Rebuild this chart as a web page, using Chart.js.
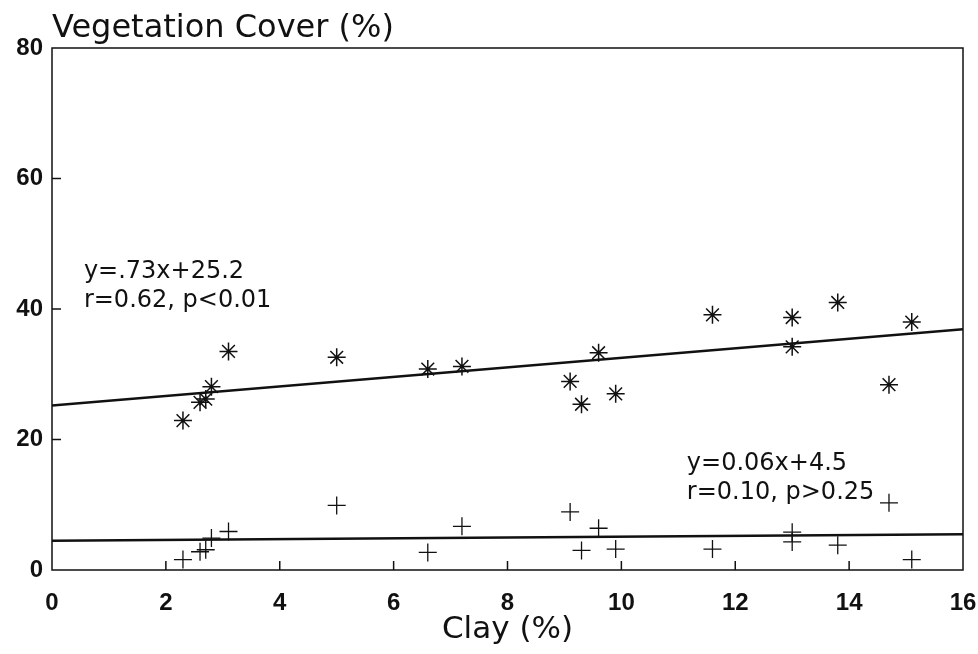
<!DOCTYPE html>
<html>
<head>
<meta charset="utf-8">
<script src="https://cdn.jsdelivr.net/npm/chart.js@4.4.0/dist/chart.umd.min.js"></script>
<style>
  html, body { margin: 0; padding: 0; background: #fff; }
  #wrap { width: 978px; height: 654px; position: relative; }
</style>
</head>
<body>
<div id="wrap"><canvas id="coverChart"></canvas></div>
<script>
// Clay content of each site (%), shared by both series
const clay       = [2.3, 2.6, 2.7, 2.8, 3.1, 5.0, 6.6, 7.2, 9.1, 9.3, 9.6, 9.9, 11.6, 13.0, 13.0, 13.8, 14.7, 15.1];
// Vegetation cover (%) — asterisk series
const coverUpper = [22.9, 25.7, 26.2, 28.1, 33.5, 32.6, 30.8, 31.2, 28.9, 25.4, 33.3, 27.0, 39.1, 38.7, 34.2, 41.0, 28.4, 38.0];
// Vegetation cover (%) — plus series
const coverLower = [1.6, 2.8, 3.1, 4.9, 5.9, 9.9, 2.7, 6.7, 8.9, 3.0, 6.4, 3.2, 3.2, 5.8, 4.3, 3.8, 10.3, 1.6];

// Regression fits printed on the chart
const fitSlope     = [0.73, 0.06];
const fitIntercept = [25.2, 4.5];
const fitText = [
    ['y=.73x+25.2', 'r=0.62, p<0.01'],
    ['y=0.06x+4.5', 'r=0.10, p>0.25']
];
const xRange = [0, 16];
const yRange = [0, 80];
const xTickStep = 2;
const yTickStep = 20;

const toPoints = ys => clay.map((x, i) => ({ x: x, y: ys[i] }));
const fitLine = k => xRange.map(x => ({ x: x, y: fitIntercept[k] + fitSlope[k] * x }));

// Frame, inward ticks, titles and fit labels
const decorations = {
    id: 'decorations',
    afterDraw(chart) {
        const { ctx, chartArea: a, scales: { x, y } } = chart;
        ctx.save();
        ctx.strokeStyle = '#111';
        ctx.lineWidth = 1.5;
        ctx.strokeRect(a.left, a.top, a.right - a.left, a.bottom - a.top);

        ctx.beginPath();
        for (let v = xRange[0] + xTickStep; v < xRange[1]; v += xTickStep) {
            const px = x.getPixelForValue(v);
            ctx.moveTo(px, a.bottom);
            ctx.lineTo(px, a.bottom - 9);
        }
        for (let v = yRange[0] + yTickStep; v < yRange[1]; v += yTickStep) {
            const py = y.getPixelForValue(v);
            ctx.moveTo(a.left, py);
            ctx.lineTo(a.left + 9, py);
        }
        ctx.stroke();

        ctx.fillStyle = '#111';
        ctx.textBaseline = 'alphabetic';
        ctx.textAlign = 'left';
        ctx.font = '32px "DejaVu Sans"';
        ctx.fillText('Vegetation Cover (%)', a.left, 37);

        ctx.textAlign = 'center';
        ctx.font = '31px "DejaVu Sans"';
        ctx.fillText('Clay (%)', (a.left + a.right) / 2, 638);

        ctx.textAlign = 'left';
        ctx.font = '24px "DejaVu Sans"';
        const anchors = [{ x: 0.56, y: 44.8 }, { x: 11.15, y: 15.3 }];
        anchors.forEach((p, k) => {
            const px = x.getPixelForValue(p.x);
            const py = y.getPixelForValue(p.y);
            ctx.fillText(fitText[k][0], px, py);
            ctx.fillText(fitText[k][1], px, py + 29);
        });
        ctx.restore();
    }
};

new Chart(document.getElementById('coverChart'), {
    type: 'scatter',
    data: {
        datasets: [
            {
                label: 'Cover (asterisk)',
                data: toPoints(coverUpper),
                pointStyle: 'star',
                radius: 9,
                borderColor: '#111',
                backgroundColor: '#111',
                borderWidth: 1.5
            },
            {
                label: 'Cover (plus)',
                data: toPoints(coverLower),
                pointStyle: 'cross',
                radius: 9,
                borderColor: '#111',
                backgroundColor: '#111',
                borderWidth: 1.3
            },
            {
                type: 'line',
                label: 'Fit asterisk',
                data: fitLine(0),
                borderColor: '#111',
                borderWidth: 2.5,
                pointRadius: 0
            },
            {
                type: 'line',
                label: 'Fit plus',
                data: fitLine(1),
                borderColor: '#111',
                borderWidth: 2.5,
                pointRadius: 0
            }
        ]
    },
    options: {
        responsive: true,
        maintainAspectRatio: false,
        animation: false,
        layout: { padding: { top: 48, right: 15, left: 0, bottom: 0 } },
        plugins: {
            legend: { display: false },
            tooltip: { enabled: false }
        },
        scales: {
            x: {
                type: 'linear',
                min: xRange[0],
                max: xRange[1],
                grid: { display: false, drawTicks: false },
                border: { display: false },
                ticks: {
                    stepSize: xTickStep,
                    autoSkip: false,
                    maxRotation: 0,
                    padding: 19,
                    color: '#111',
                    font: { family: '"Liberation Sans", Arial', size: 24, weight: 'bold' }
                },
                afterFit(scale) {
                    scale.height = 84;
                    scale.paddingLeft = 0;
                    scale.paddingRight = 0;
                }
            },
            y: {
                type: 'linear',
                min: yRange[0],
                max: yRange[1],
                grid: { display: false, drawTicks: false },
                border: { display: false },
                ticks: {
                    stepSize: yTickStep,
                    padding: 9,
                    color: '#111',
                    font: { family: '"Liberation Sans", Arial', size: 24, weight: 'bold' }
                },
                afterFit(scale) { scale.width = 52; }
            }
        }
    },
    plugins: [decorations]
});
</script>
</body>
</html>
